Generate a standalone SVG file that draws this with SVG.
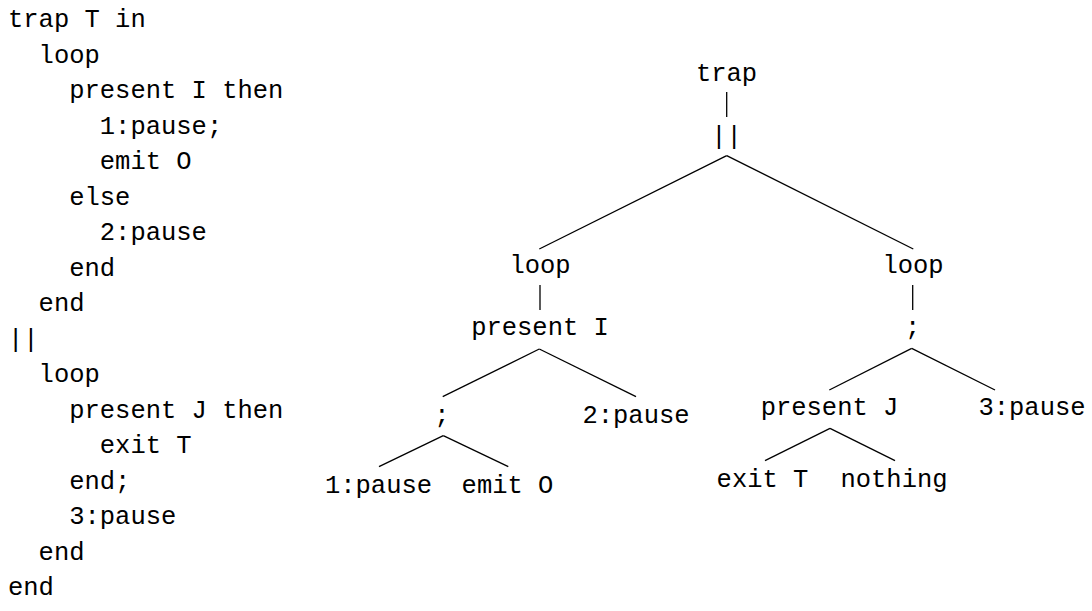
<svg xmlns="http://www.w3.org/2000/svg" width="1092" height="611" viewBox="0 0 1092 611">
<style>
text{font-family:"Liberation Mono","Courier New",monospace;font-size:25.5px;fill:#000}
.n text{text-anchor:middle}
#edges line{stroke:#000;stroke-width:1.3;stroke-linecap:butt}
</style>
<rect width="1092" height="611" fill="#fff"/>
<g id="code">
<text x="8" y="27">trap T in</text>
<text x="38.6" y="62.5">loop</text>
<text x="69.2" y="98">present I then</text>
<text x="99.8" y="133.5">1:pause;</text>
<text x="99.8" y="169">emit O</text>
<text x="69.2" y="204.5">else</text>
<text x="99.8" y="240">2:pause</text>
<text x="69.2" y="275.5">end</text>
<text x="38.6" y="311">end</text>
<text x="8" y="346.5">||</text>
<text x="38.6" y="382">loop</text>
<text x="69.2" y="417.5">present J then</text>
<text x="99.8" y="453">exit T</text>
<text x="69.2" y="488.5">end;</text>
<text x="69.2" y="524">3:pause</text>
<text x="38.6" y="559.5">end</text>
<text x="8" y="595">end</text>
</g>
<g id="edges">
<line x1="726.7" y1="92" x2="726.7" y2="117"/>
<line x1="726.7" y1="155.7" x2="539.3" y2="249"/>
<line x1="726.7" y1="155.7" x2="913.3" y2="249"/>
<line x1="540" y1="285" x2="540" y2="310"/>
<line x1="912.7" y1="285" x2="912.7" y2="310"/>
<line x1="539.3" y1="349" x2="442.7" y2="396.7"/>
<line x1="539.3" y1="349" x2="636" y2="396.7"/>
<line x1="443.3" y1="435.7" x2="379" y2="466.7"/>
<line x1="443.3" y1="435.7" x2="508.3" y2="466.7"/>
<line x1="911.7" y1="348.3" x2="829.3" y2="390"/>
<line x1="911.7" y1="348.3" x2="995" y2="390"/>
<line x1="830" y1="428.3" x2="765" y2="460.7"/>
<line x1="830" y1="428.3" x2="895" y2="460.7"/>
</g>
<g id="n-trap" class="n"><text x="726.5" y="80.7">trap</text></g>
<g id="n-par" class="n"><text x="726.5" y="144">||</text></g>
<g id="n-loop1" class="n"><text x="540" y="273.3">loop</text></g>
<g id="n-loop2" class="n"><text x="913" y="273.3">loop</text></g>
<g id="n-presentI" class="n"><text x="540" y="335">present I</text></g>
<g id="n-seq2" class="n"><text x="912.7" y="335">;</text></g>
<g id="n-seq1" class="n"><text x="442" y="423.3">;</text></g>
<g id="n-pause2" class="n"><text x="636" y="423.3">2:pause</text></g>
<g id="n-presentJ" class="n"><text x="829.5" y="415">present J</text></g>
<g id="n-pause3" class="n"><text x="1032" y="415">3:pause</text></g>
<g id="n-pause1" class="n"><text x="378.5" y="493.3">1:pause</text></g>
<g id="n-emit" class="n"><text x="507.5" y="493.3">emit O</text></g>
<g id="n-exit" class="n"><text x="762.5" y="486.7">exit T</text></g>
<g id="n-nothing" class="n"><text x="894" y="486.7">nothing</text></g>
</svg>
